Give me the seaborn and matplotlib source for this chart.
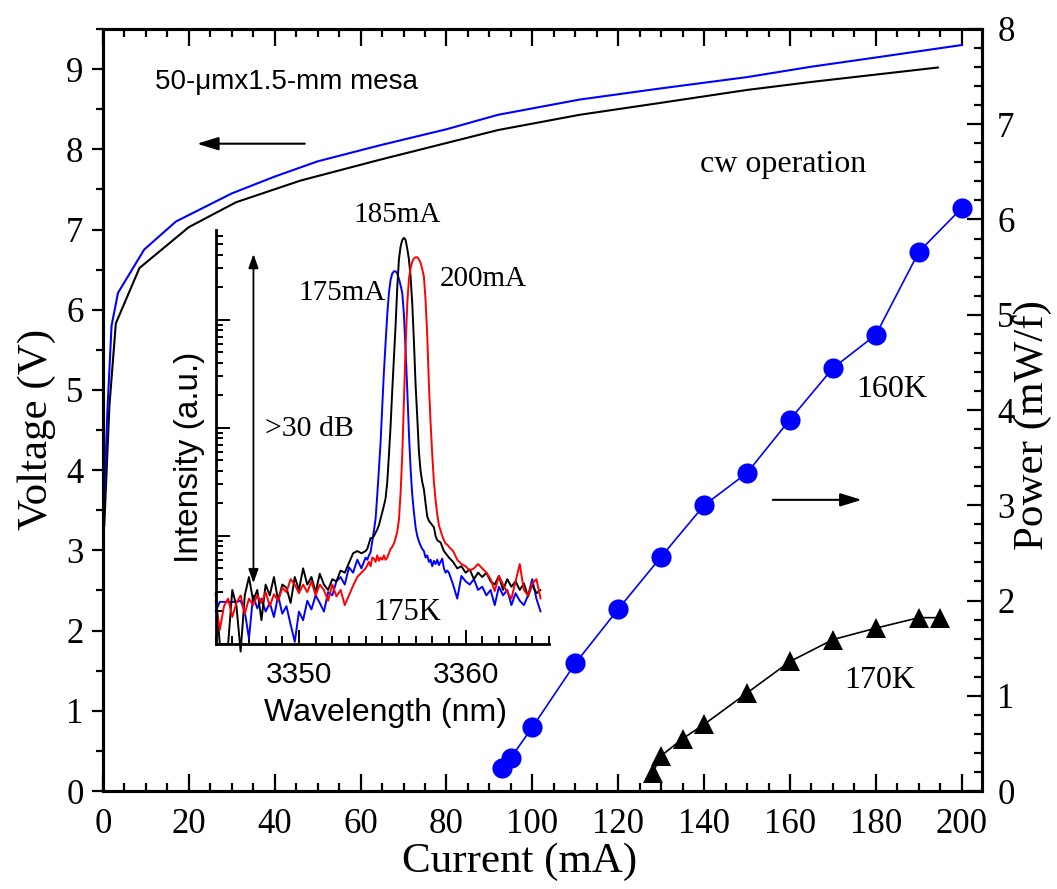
import numpy as np
import pandas as pd
import matplotlib
matplotlib.use("Agg")
import matplotlib.pyplot as plt
from matplotlib.ticker import MultipleLocator, FixedLocator, LogLocator, NullFormatter
import seaborn as sns

# ---------------- main panel data ----------------
current_v_blue = [0.3, 1.0, 2.0, 3.5, 9.6, 17, 30, 40, 50, 64.5, 80, 92, 111, 130, 150, 165, 182, 200]
voltage_blue = [3.6, 4.7, 5.8, 6.21, 6.75, 7.10, 7.45, 7.66, 7.85, 8.05, 8.25, 8.43, 8.62, 8.76, 8.90, 9.03, 9.16, 9.30]
current_v_black = [0.3, 1.5, 3.0, 8.5, 20, 31, 46, 64.5, 92, 111, 130, 150, 165, 194.5]
voltage_black = [3.3, 4.8, 5.83, 6.52, 7.03, 7.34, 7.61, 7.87, 8.24, 8.43, 8.58, 8.74, 8.84, 9.02]

current_160K = [93, 95, 100, 110, 120, 130, 140, 150, 160, 170, 180, 190, 200]
power_160K = [0.24, 0.35, 0.67, 1.34, 1.91, 2.46, 3.00, 3.34, 3.90, 4.44, 4.79, 5.66, 6.12]
current_170K = [128, 130, 135, 140, 150, 160, 170, 180, 190, 195]
power_170K = [0.19, 0.37, 0.55, 0.70, 1.03, 1.36, 1.59, 1.71, 1.82, 1.82]

x_ticks = [0, 20, 40, 60, 80, 100, 120, 140, 160, 180, 200]
x_tick_labels = ["0", "20", "40", "60", "80", "100", "120", "140", "160", "180", "200"]
v_ticks = [0, 1, 2, 3, 4, 5, 6, 7, 8, 9]
v_tick_labels = ["0", "1", "2", "3", "4", "5", "6", "7", "8", "9"]
p_ticks = [0, 1, 2, 3, 4, 5, 6, 7, 8]
p_tick_labels = ["0", "1", "2", "3", "4", "5", "6", "7", "8"]

# ---------------- inset spectra (log10 intensity, a.u.) ----------------
wavelength = [
    3345.0, 3345.25, 3345.5, 3345.75, 3346.0, 3346.25, 3346.5, 3346.75,
    3347.0, 3347.25, 3347.5, 3347.75, 3348.0, 3348.25, 3348.5, 3348.75,
    3349.0, 3349.25, 3349.5, 3349.75, 3350.0, 3350.25, 3350.5, 3350.75,
    3351.0, 3351.25, 3351.5, 3351.75, 3352.0, 3352.25, 3352.5, 3352.75,
    3353.0, 3353.25, 3353.5, 3353.75,
    3354.0, 3354.1, 3354.2, 3354.3, 3354.4, 3354.5, 3354.6, 3354.7, 3354.8, 3354.9,
    3355.0, 3355.1, 3355.2, 3355.3, 3355.4, 3355.5, 3355.6, 3355.7, 3355.8, 3355.9,
    3356.0, 3356.1, 3356.2, 3356.3, 3356.4, 3356.5, 3356.6, 3356.7, 3356.8, 3356.9,
    3357.0, 3357.1, 3357.2, 3357.3, 3357.4, 3357.5, 3357.6, 3357.7, 3357.8, 3357.9,
    3358.0, 3358.1, 3358.2, 3358.3, 3358.4, 3358.5, 3358.6, 3358.7, 3358.8, 3358.9,
    3359.0, 3359.25, 3359.5, 3359.75, 3360.0, 3360.25, 3360.5, 3360.75,
    3361.0, 3361.25, 3361.5, 3361.75, 3362.0, 3362.25, 3362.5, 3362.75,
    3363.0, 3363.25, 3363.5, 3363.75, 3364.0, 3364.25, 3364.5,
]
log_int_175mA = [
    0.30, 0.39, 0.39, 0.39, 0.39, 0.39, 0.40, 0.30,
    0.05, 0.45, 0.33, 0.42, 0.30, 0.38, 0.25, 0.45,
    0.28, 0.35, 0.18, 0.02, 0.30, 0.22, 0.40, 0.32,
    0.45, 0.38, 0.30, 0.48, 0.45, 0.58, 0.62, 0.55,
    0.71, 0.66, 0.78, 0.70,
    0.80, 0.78, 0.82, 0.85, 0.95, 1.05, 1.16, 1.38, 1.62, 1.87,
    2.20, 2.52, 2.79, 3.05, 3.25, 3.37, 3.43, 3.45, 3.45, 3.43,
    3.38, 3.32, 3.25, 3.05, 2.72, 2.35, 1.95, 1.62, 1.38, 1.22,
    1.08, 1.00, 0.95, 0.91, 0.88, 0.86, 0.80, 0.82, 0.76, 0.78,
    0.72, 0.77, 0.74, 0.78, 0.73, 0.76, 0.79, 0.70, 0.66, 0.68,
    0.66, 0.55, 0.42, 0.63, 0.58, 0.55, 0.60, 0.50,
    0.53, 0.45, 0.50, 0.36, 0.53, 0.45, 0.50, 0.36,
    0.47, 0.40, 0.36, 0.45, 0.60, 0.42, 0.30,
]
log_int_185mA = [
    0.47, 0.00, 0.00, 0.00, 0.50, 0.35, -0.07, 0.45,
    0.62, 0.40, 0.50, 0.22, 0.55, 0.45, 0.62, 0.40,
    0.55, 0.52, 0.38, 0.62, 0.50, 0.70, 0.55, 0.62,
    0.48, 0.65, 0.55, 0.50, 0.60, 0.58, 0.68, 0.66,
    0.75, 0.84, 0.86, 0.84,
    0.86, 0.88, 0.93, 0.98, 0.98, 1.00, 1.03, 1.06, 1.10, 1.16,
    1.22, 1.28, 1.35, 1.50, 1.75, 2.02, 2.35, 2.65, 2.95, 3.30,
    3.56, 3.68, 3.74, 3.76, 3.74, 3.66, 3.56, 3.40, 3.15, 2.80,
    2.40, 2.10, 1.78, 1.60, 1.50, 1.43, 1.30, 1.18, 1.14, 1.12,
    1.10, 1.08, 1.00, 0.96, 0.95, 0.94, 0.90, 0.86, 0.84, 0.82,
    0.80, 0.76, 0.70, 0.72, 0.66, 0.69, 0.60, 0.66,
    0.62, 0.66, 0.58, 0.55, 0.63, 0.50, 0.60, 0.53,
    0.58, 0.50, 0.56, 0.44, 0.55, 0.47, 0.50,
]
log_int_200mA = [
    0.40, 0.13, 0.35, 0.42, 0.25, 0.38, 0.45, 0.28,
    0.42, 0.36, 0.45, 0.38, 0.48, 0.35, 0.46, 0.40,
    0.52, 0.48, 0.60, 0.55, 0.47, 0.55, 0.48, 0.58,
    0.45, 0.55, 0.50, 0.40, 0.55, 0.44, 0.50, 0.36,
    0.45, 0.54, 0.62, 0.66,
    0.70, 0.73, 0.76, 0.72, 0.80, 0.79, 0.76, 0.82, 0.77, 0.80,
    0.78, 0.82, 0.78, 0.80, 0.84, 0.88, 0.90, 0.93, 0.98, 1.04,
    1.15, 1.40, 1.75, 2.25, 2.75, 3.15, 3.38, 3.48, 3.54, 3.57,
    3.58, 3.58, 3.56, 3.53, 3.47, 3.40, 3.18, 2.85, 2.40, 2.05,
    1.75, 1.50, 1.33, 1.20, 1.10, 1.05, 1.00, 0.96, 0.93, 0.92,
    0.90, 0.86, 0.78, 0.74, 0.72, 0.68, 0.70, 0.74,
    0.70, 0.66, 0.60, 0.49, 0.63, 0.55, 0.48, 0.42,
    0.58, 0.74, 0.50, 0.45, 0.56, 0.60, 0.42,
]
inset_x_ticks = [3350, 3360]
inset_x_tick_labels = ["3350", "3360"]

assert len(wavelength) == len(log_int_175mA) == len(log_int_185mA) == len(log_int_200mA)

BLUE = "#0000ff"
RED = "#ff0000"
SERIF = ["Liberation Serif", "DejaVu Serif"]
SANS = ["Liberation Sans", "DejaVu Sans"]

sns.set_theme(style="ticks")
plt.rcParams["font.family"] = SERIF
plt.rcParams["axes.linewidth"] = 2.2
plt.rcParams["axes.edgecolor"] = "black"
plt.rcParams["text.color"] = "black"
plt.rcParams["axes.labelcolor"] = "black"
plt.rcParams["xtick.color"] = "black"
plt.rcParams["ytick.color"] = "black"
plt.rcParams["xtick.labelcolor"] = "black"
plt.rcParams["ytick.labelcolor"] = "black"

fig = plt.figure(figsize=(10.57, 8.89), dpi=100)
ax = fig.add_axes([0.0974, 0.1102, 0.8316, 0.8572])
ax2 = ax.twinx()

# voltage curves (left axis)
sns.lineplot(x=current_v_black, y=voltage_black, ax=ax, color="black", lw=1.5,
             sort=False, estimator=None)
sns.lineplot(x=current_v_blue, y=voltage_blue, ax=ax, color=BLUE, lw=1.5,
             sort=False, estimator=None)

# power curves (right axis)
sns.lineplot(x=current_160K, y=power_160K, ax=ax2, color=BLUE, lw=1.2, marker="o",
             markersize=14.5, markeredgewidth=0, sort=False, estimator=None)
sns.lineplot(x=current_170K, y=power_170K, ax=ax2, color="black", lw=1.2, marker="^",
             markersize=14.5, markeredgewidth=0, sort=False, estimator=None)

ax.set_xlim(0, 204.7)
ax.set_ylim(0, 9.5)
ax2.set_ylim(0, 8)

ax.xaxis.set_major_locator(FixedLocator(x_ticks))
ax.set_xticklabels(x_tick_labels)
ax.xaxis.set_minor_locator(MultipleLocator(5))
ax.yaxis.set_major_locator(FixedLocator(v_ticks))
ax.set_yticklabels(v_tick_labels)
ax.yaxis.set_minor_locator(MultipleLocator(0.5))
ax2.yaxis.set_major_locator(FixedLocator(p_ticks))
ax2.set_yticklabels(p_tick_labels)
ax2.yaxis.set_minor_locator(MultipleLocator(0.2))

ax.tick_params(axis="x", which="both", direction="in", top=True, bottom=True,
               labelsize=25, pad=12, width=1.6, colors="black")
ax.tick_params(axis="x", which="major", length=12)
ax.tick_params(axis="x", which="minor", length=6)
ax.tick_params(axis="y", which="both", direction="out", left=True, right=False,
               labelsize=25, pad=6, width=1.6, colors="black")
ax.tick_params(axis="y", which="major", length=8)
ax.tick_params(axis="y", which="minor", length=5)
ax2.tick_params(axis="y", which="both", direction="in", right=True,
                labelsize=25, pad=11, width=1.6, colors="black")
ax2.tick_params(axis="y", which="major", length=11)
ax2.tick_params(axis="y", which="minor", length=6)
for a in (ax, ax2):
    for s in a.spines.values():
        s.set_linewidth(2.2)
        s.set_color("black")

ax.set_xlabel("Current (mA)", fontsize=31, color="black")
ax.set_ylabel("Voltage (V)", fontsize=31, color="black")
ax2.set_ylabel("Power (mW/f)", fontsize=31, color="black")
for lab in (ax.xaxis.label, ax.yaxis.label, ax2.yaxis.label):
    lab.set_verticalalignment("center")
    lab.set_horizontalalignment("center")
ax.xaxis.set_label_coords(0.474, -0.093)
ax.yaxis.set_label_coords(-0.075, 0.474)
ax2.yaxis.set_label_coords(1.058, 0.48)

# annotations main panel
ax.text(12.1, 8.84, "50-\u03bcmx1.5-mm mesa", family=SANS, fontsize=20,
        ha="left", va="center", color="black")
ax.text(139, 7.81, "cw operation", fontsize=23, ha="left", va="center", color="black")
ax.text(183.7, 5.0, "160K", fontsize=23, ha="center", va="center", color="black")
ax.text(180.9, 1.38, "170K", fontsize=23, ha="center", va="center", color="black")
ax.annotate("", xy=(21.9, 8.07), xytext=(47.0, 8.07),
            arrowprops=dict(arrowstyle="-|>,head_length=0.65,head_width=0.2",
                            mutation_scale=20, color="black", lw=1.5,
                            shrinkA=0, shrinkB=0))
ax.annotate("", xy=(176.7, 3.63), xytext=(156.0, 3.63),
            arrowprops=dict(arrowstyle="-|>,head_length=0.65,head_width=0.2",
                            mutation_scale=20, color="black", lw=1.5,
                            shrinkA=0, shrinkB=0))

# ---------------- inset ----------------
axin = fig.add_axes([0.204, 0.2756, 0.3153, 0.4657])
axin.set_facecolor("none")
spec = pd.DataFrame({
    "wavelength": wavelength,
    "I175": np.power(10.0, log_int_175mA),
    "I185": np.power(10.0, log_int_185mA),
    "I200": np.power(10.0, log_int_200mA),
})
sns.lineplot(data=spec, x="wavelength", y="I175", ax=axin, color=BLUE, lw=1.4,
             sort=False, estimator=None, clip_on=False)
sns.lineplot(data=spec, x="wavelength", y="I185", ax=axin, color="black", lw=1.4,
             sort=False, estimator=None, clip_on=False)
sns.lineplot(data=spec, x="wavelength", y="I200", ax=axin, color=RED, lw=1.4,
             sort=False, estimator=None, clip_on=False)
axin.set_yscale("log")
axin.set_xlim(3345, 3365)
axin.set_ylim(1, 6.8e3)
axin.spines["top"].set_visible(False)
axin.spines["right"].set_visible(False)
for s in ("left", "bottom"):
    axin.spines[s].set_linewidth(2.0)
    axin.spines[s].set_color("black")
axin.xaxis.set_major_locator(FixedLocator(inset_x_ticks))
axin.set_xticklabels(inset_x_tick_labels)
axin.xaxis.set_minor_locator(MultipleLocator(1))
axin.yaxis.set_major_locator(LogLocator(base=10))
axin.yaxis.set_minor_locator(LogLocator(base=10, subs=np.arange(2, 10)))
axin.yaxis.set_major_formatter(NullFormatter())
axin.yaxis.set_minor_formatter(NullFormatter())
axin.tick_params(axis="both", which="both", direction="in", width=1.4, colors="black")
axin.tick_params(axis="x", which="major", length=10, labelsize=21.5, pad=12)
axin.tick_params(axis="x", which="minor", length=6)
axin.tick_params(axis="y", which="major", length=10)
axin.tick_params(axis="y", which="minor", length=5)
for t in axin.get_xticklabels():
    t.set_family(SANS)
axin.set_xlabel("Wavelength (nm)", family=SANS, fontsize=23, color="black")
axin.set_ylabel("Intensity (a.u.)", family=SANS, fontsize=24, color="black")
for lab in (axin.xaxis.label, axin.yaxis.label):
    lab.set_verticalalignment("center")
    lab.set_horizontalalignment("center")
axin.xaxis.set_label_coords(0.511, -0.167)
axin.yaxis.set_label_coords(-0.078, 0.452)

axin.text(3355.88, 10 ** 3.97, "185mA", fontsize=21, ha="center", va="center", color="black")
axin.text(3352.56, 10 ** 3.25, "175mA", fontsize=21, ha="center", va="center", color="black")
axin.text(3361.05, 10 ** 3.38, "200mA", fontsize=21, ha="center", va="center", color="black")
axin.text(3347.98, 10 ** 1.99, ">30 dB", fontsize=21.5, ha="left", va="center", color="black")
axin.text(3356.48, 10 ** 0.295, "175K", fontsize=22, ha="center", va="center", color="black")
axin.annotate("", xy=(3347.27, 10 ** 3.61), xytext=(3347.27, 10 ** 0.563),
              arrowprops=dict(arrowstyle="<|-|>,head_length=0.7,head_width=0.25",
                              mutation_scale=12, color="black", lw=1.3,
                              shrinkA=0, shrinkB=0))

fig.savefig("out.png", dpi=100)
